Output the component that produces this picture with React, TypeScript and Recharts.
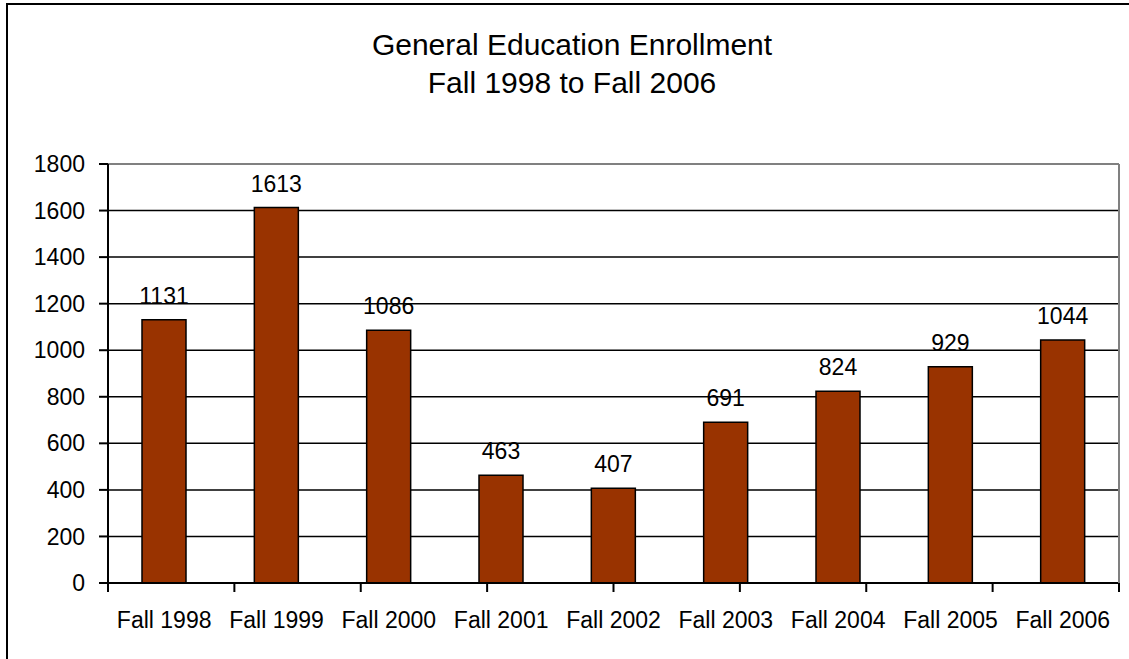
import React from "react";
import {
  BarChart,
  Bar,
  XAxis,
  YAxis,
  CartesianGrid,
  LabelList,
  ReferenceLine,
} from "recharts";

const categories = [
  "Fall 1998",
  "Fall 1999",
  "Fall 2000",
  "Fall 2001",
  "Fall 2002",
  "Fall 2003",
  "Fall 2004",
  "Fall 2005",
  "Fall 2006",
];
const enrollment = [1131, 1613, 1086, 463, 407, 691, 824, 929, 1044];
const yTicks = [0, 200, 400, 600, 800, 1000, 1200, 1400, 1600, 1800];
const boundaryTicks = [0, 1, 2, 3, 4, 5, 6, 7, 8, 9];
const titleLines = ["General Education Enrollment", "Fall 1998 to Fall 2006"];

const data = categories.map((name, i) => ({ name, value: enrollment[i] }));

const FONT = '"Liberation Sans", Arial, Helvetica, sans-serif';

export default function App() {
  return (
    <div
      style={{
        position: "absolute",
        left: 0,
        top: 0,
        width: 1129,
        height: 659,
        overflow: "hidden",
        background: "#fff",
        fontFamily: FONT,
      }}
    >
      <div
        style={{
          position: "absolute",
          left: 6,
          top: 3,
          width: 1200,
          height: 700,
          borderLeft: "2px solid #000",
          borderTop: "2px solid #000",
        }}
      />
      <div
        style={{
          position: "absolute",
          left: 0,
          top: 26,
          width: 1144,
          textAlign: "center",
          fontSize: 30,
          lineHeight: "38px",
          color: "#000",
        }}
      >
        {titleLines.map((t) => (
          <div key={t}>{t}</div>
        ))}
      </div>
      <div style={{ position: "absolute", left: 0, top: 0 }}>
        <BarChart
          width={1129}
          height={659}
          data={data}
          margin={{ top: 164, right: 9, bottom: 16, left: 0 }}
          barSize={44}
        >
          <CartesianGrid
            xAxisId="a"
            yAxisId="left"
            vertical={false}
            stroke="#000"
            strokeWidth={1.5}
          />
          <XAxis
            xAxisId="a"
            type="number"
            domain={[0, 9]}
            allowDataOverflow={true}
            ticks={boundaryTicks}
            interval={0}
            tick={{ fontSize: 0, fill: "none" }}
            tickFormatter={() => ""}
            tickSize={9}
            height={1}
            axisLine={{ stroke: "#000", strokeWidth: 2 }}
            tickLine={{ stroke: "#000", strokeWidth: 2 }}
          />
          <XAxis
            xAxisId="b"
            dataKey="name"
            height={59}
            axisLine={false}
            tickLine={false}
            tickSize={9}
            tickMargin={19}
            interval={0}
            tick={{ fill: "#000", fontSize: 23, fontFamily: FONT }}
          />
          <YAxis
            yAxisId="left"
            width={108}
            domain={[0, 1800]}
            ticks={yTicks}
            interval={0}
            tickSize={9}
            tickMargin={14}
            axisLine={{ stroke: "#000", strokeWidth: 2 }}
            tickLine={{ stroke: "#000", strokeWidth: 2 }}
            tick={{ fill: "#000", fontSize: 23, fontFamily: FONT }}
          />
          <YAxis
            yAxisId="right"
            orientation="right"
            width={1}
            domain={[0, 1800]}
            ticks={[0, 1800]}
            tick={{ fontSize: 0, fill: "none" }}
            tickFormatter={() => ""}
            tickLine={false}
            axisLine={{ stroke: "#808080", strokeWidth: 2 }}
          />
          <ReferenceLine
            y={1800}
            yAxisId="left"
            xAxisId="a"
            stroke="#808080"
            strokeWidth={2}
          />
          <Bar
            dataKey="value"
            xAxisId="b"
            yAxisId="left"
            fill="#993300"
            stroke="#000"
            strokeWidth={1.5}
            isAnimationActive={false}
          >
            <LabelList
              dataKey="value"
              position="top"
              offset={16}
              fill="#000"
              fontSize={23}
              fontFamily={FONT}
            />
          </Bar>
        </BarChart>
      </div>
    </div>
  );
}
